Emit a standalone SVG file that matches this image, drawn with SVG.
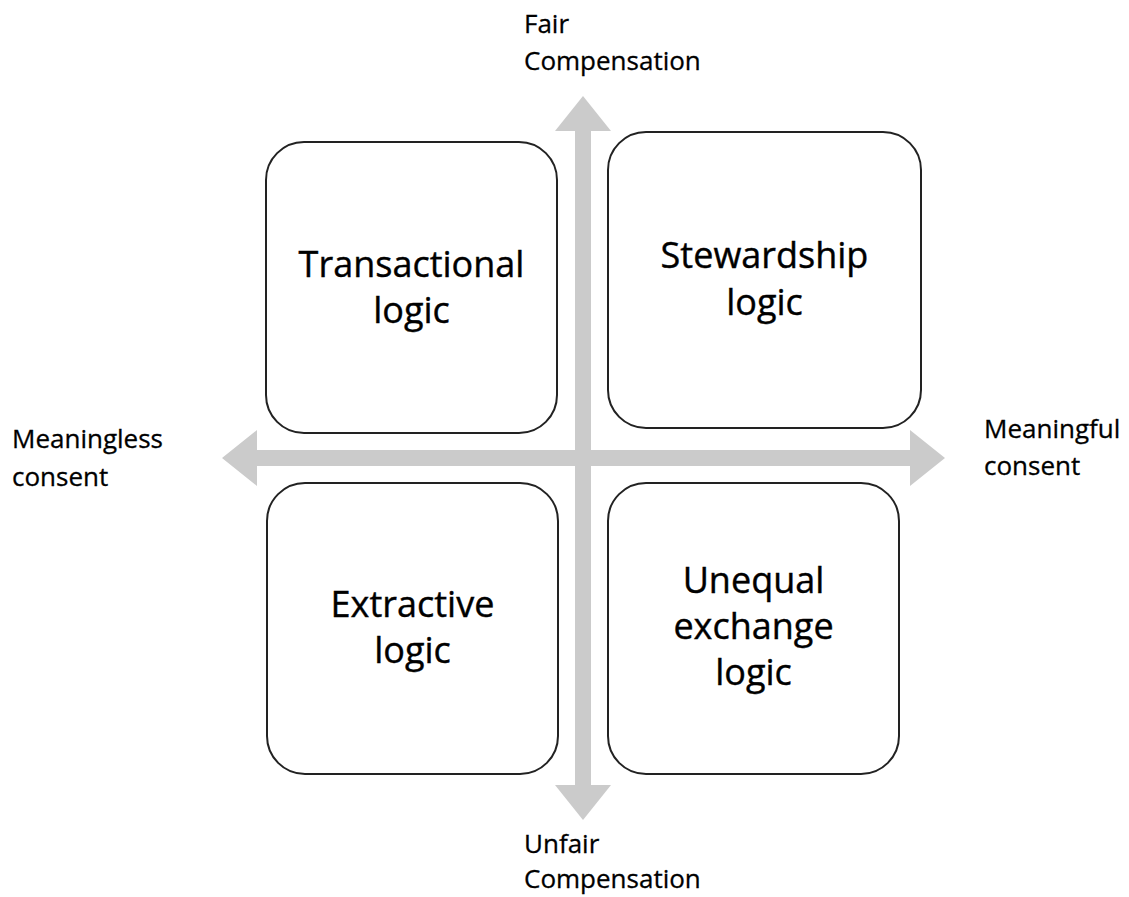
<svg xmlns="http://www.w3.org/2000/svg" width="1129" height="897" viewBox="0 0 1129 897">
<style>
.box{fill:#fff;stroke:#222;stroke-width:2}
.arrow{fill:#cbcbcb}
.big{font-family:"Open Sans","Noto Sans",sans-serif;font-size:36px;fill:#000;stroke:#000;stroke-width:0.4;text-anchor:middle}
.lbl{font-family:"Open Sans","Noto Sans",sans-serif;font-size:26px;fill:#000;stroke:#000;stroke-width:0.3}
</style>
<rect width="1129" height="897" fill="#fff"/>
<g id="connectors">
<path class="arrow" d="M222,458 L257,430 L257,450 L910,450 L910,430 L945,458 L910,486 L910,466 L257,466 L257,486 Z"/>
<path class="arrow" d="M583,96 L611,131 L591,131 L591,785 L611,785 L583,820 L555,785 L575,785 L575,131 L555,131 Z"/>
</g>
<g id="transactional">
<rect class="box" x="266" y="142" width="291" height="291" rx="38"/>
<text class="big" x="411.5" y="277">Transactional</text>
<text class="big" x="411.5" y="323">logic</text>
</g>
<g id="stewardship">
<rect class="box" x="608" y="132" width="313" height="296" rx="38"/>
<text class="big" x="764.5" y="268">Stewardship</text>
<text class="big" x="764.5" y="315">logic</text>
</g>
<g id="extractive">
<rect class="box" x="267" y="483" width="291" height="291" rx="38"/>
<text class="big" x="412.5" y="617">Extractive</text>
<text class="big" x="412.5" y="663">logic</text>
</g>
<g id="unequal">
<rect class="box" x="608" y="483" width="291" height="291" rx="38"/>
<text class="big" x="753.5" y="593">Unequal</text>
<text class="big" x="753.5" y="639">exchange</text>
<text class="big" x="753.5" y="685">logic</text>
</g>
<g id="fair">
<text class="lbl" x="524" y="33">Fair</text>
<text class="lbl" x="524" y="70">Compensation</text>
</g>
<g id="unfair">
<text class="lbl" x="524" y="853">Unfair</text>
<text class="lbl" x="524" y="888">Compensation</text>
</g>
<g id="meaningless">
<text class="lbl" x="12" y="448">Meaningless</text>
<text class="lbl" x="12" y="486">consent</text>
</g>
<g id="meaningful">
<text class="lbl" x="984" y="438">Meaningful</text>
<text class="lbl" x="984" y="475">consent</text>
</g>
</svg>
